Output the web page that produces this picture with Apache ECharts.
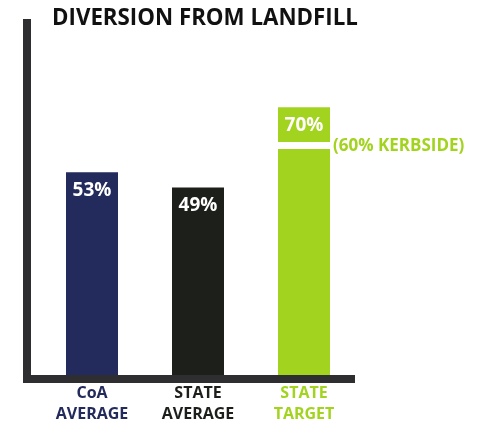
<!DOCTYPE html>
<html>
<head>
<meta charset="utf-8">
<script src="https://cdn.jsdelivr.net/npm/echarts@6/dist/echarts.min.js"></script>
<style>
  html, body { margin: 0; padding: 0; background: #fff; }
  #chart { width: 479px; height: 425px; }
</style>
</head>
<body>
<div id="chart"></div>
<script>
// Diversion rates (%)
const categories = ['CoA\nAVERAGE', 'STATE\nAVERAGE', 'STATE\nTARGET'];
const diversion = [53, 49, 70];
const kerbsideTarget = 60;          // share of the state target met through kerbside collection
const barColors = ['#232a5c', '#1c1f1a', '#a2d31f'];

const FONT = '"Open Sans", "DejaVu Sans", sans-serif';
const AXIS_COLOR = '#2e2e30';

const chart = echarts.init(document.getElementById('chart'));

chart.setOption({
  animation: false,
  backgroundColor: '#fff',
  title: {
    text: 'DIVERSION FROM LANDFILL',
    left: 47,
    top: 3,
    textStyle: { fontFamily: FONT, fontWeight: 'bold', fontSize: 22.3, color: '#111' }
  },
  grid: [
    // bars
    { left: 39, right: 122, top: 23, bottom: 46 },
    // frame lines
    { left: 27, right: 124, top: 23, bottom: 46 }
  ],
  xAxis: [
    {
      type: 'category',
      gridIndex: 0,
      data: categories,
      axisLine: { show: false },
      axisTick: { show: false },
      axisLabel: {
        margin: 8,
        fontFamily: FONT,
        fontWeight: 'bold',
        fontSize: 16,
        lineHeight: 21,
        color: (value, index) => barColors[index]
      }
    },
    {
      type: 'value',
      gridIndex: 1,
      min: 0, max: 1,
      z: 10,
      axisLine: { show: true, lineStyle: { color: AXIS_COLOR, width: 8, cap: 'butt' } },
      axisTick: { show: false },
      axisLabel: { show: false },
      splitLine: { show: false }
    }
  ],
  yAxis: [
    {
      type: 'value',
      gridIndex: 0,
      min: 0, max: 92,
      axisLine: { show: false },
      axisTick: { show: false },
      axisLabel: { show: false },
      splitLine: { show: false }
    },
    {
      type: 'value',
      gridIndex: 1,
      min: 0, max: 1,
      z: 10,
      axisLine: { show: true, lineStyle: { color: AXIS_COLOR, width: 8, cap: 'square' } },
      axisTick: { show: false },
      axisLabel: { show: false },
      splitLine: { show: false }
    }
  ],
  series: [
    {
      type: 'bar',
      xAxisIndex: 0,
      yAxisIndex: 0,
      barWidth: 52,
      data: diversion.map((v, i) => ({ value: v, itemStyle: { color: barColors[i] } })),
      label: {
        show: true,
        position: 'insideTop',
        distance: 9,
        formatter: p => p.value + '%',
        fontFamily: FONT,
        fontWeight: 'bold',
        fontSize: 19,
        color: '#fff'
      }
    },
    {
      // white break in the target bar at the kerbside share, with its note
      type: 'custom',
      xAxisIndex: 0,
      yAxisIndex: 0,
      z: 5,
      data: [[2, kerbsideTarget]],
      renderItem: (params, api) => {
        const p = api.coord([api.value(0), api.value(1)]);
        return {
          type: 'group',
          children: [
            {
              type: 'rect',
              shape: { x: p[0] - 28, y: p[1] - 3.5, width: 56, height: 7 },
              style: { fill: '#fff' }
            },
            {
              type: 'text',
              x: p[0] + 29,
              y: p[1] + 1,
              style: {
                text: '(' + api.value(1) + '% KERBSIDE)',
                fill: barColors[2],
                font: 'bold 17px ' + FONT,
                verticalAlign: 'middle',
                align: 'left'
              }
            }
          ]
        };
      }
    }
  ]
});
</script>
</body>
</html>
